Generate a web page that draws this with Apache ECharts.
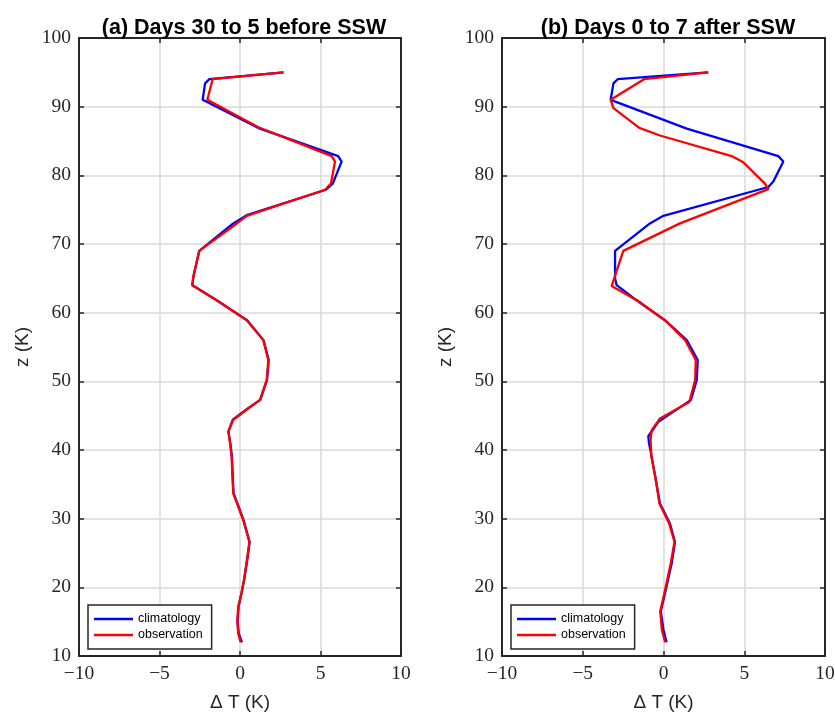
<!DOCTYPE html>
<html><head><meta charset="utf-8">
<script src="https://cdn.jsdelivr.net/npm/echarts@6/dist/echarts.min.js"></script>
<style>html,body{margin:0;padding:0;background:#fff}#c{width:835px;height:715px}</style>
</head><body><div id="c"></div>
<script>
// ---- data ----
const xTicks = [-10, -5, 0, 5, 10];
const yTicks = [10, 20, 30, 40, 50, 60, 70, 80, 90, 100];
const titles = ['(a) Days 30 to 5 before SSW', '(b) Days 0 to 7 after SSW'];
const seriesNames = ['climatology', 'observation'];

// Panel (a)
const aClimZ = [12, 13.3, 15, 17.2, 19.2, 21, 23.8, 26.6, 29.8, 31.7, 33.7, 36.6, 39, 41, 42.7, 44.4, 45.9, 47.3, 50.2, 53.1, 56, 58.9, 61.8, 64, 65.2, 69, 73, 74.2, 77.9, 78.8, 82, 82.8, 86.8, 91, 93.4, 94, 95];
const aClimT = [0.12, -0.08, -0.15, -0.09, 0.1, 0.25, 0.44, 0.6, 0.22, -0.08, -0.4, -0.46, -0.5, -0.6, -0.72, -0.45, 0.4, 1.26, 1.68, 1.78, 1.46, 0.44, -1.45, -2.96, -2.9, -2.53, -0.42, 0.42, 5.34, 5.76, 6.31, 6.1, 1.24, -2.32, -2.17, -1.9, 2.7];
const aObsZ = [12, 13.3, 15, 17.2, 19.2, 21, 23.8, 26.6, 29.8, 31.7, 33.7, 36.6, 39, 41, 42.7, 44.4, 45.9, 47.3, 50.2, 53.1, 56, 58.9, 61.8, 64, 65.2, 69, 72.8, 74.1, 77.9, 78.8, 82, 82.8, 87, 91, 94, 95];
const aObsT = [0.04, -0.11, -0.17, -0.11, 0.1, 0.24, 0.42, 0.58, 0.2, -0.1, -0.42, -0.48, -0.52, -0.62, -0.72, -0.42, 0.42, 1.24, 1.66, 1.76, 1.45, 0.42, -1.45, -2.96, -2.9, -2.53, -0.31, 0.42, 5.28, 5.65, 5.9, 5.7, 1.14, -2.03, -1.7, 2.7];

// Panel (b)
const bClimZ = [12, 13.8, 16.5, 19.1, 23.5, 26.6, 29.3, 32.2, 36, 39, 41, 42, 44.1, 47.3, 50.2, 53.1, 56, 58.9, 61.8, 64, 65, 69, 73, 74.1, 78.3, 79.1, 82, 82.8, 86.8, 91, 93.4, 94, 95];
const bClimT = [0.19, 0.0, -0.17, 0.09, 0.51, 0.71, 0.4, -0.22, -0.5, -0.73, -0.9, -0.94, -0.32, 1.7, 2.06, 2.12, 1.44, 0.09, -1.66, -2.9, -3.0, -3.0, -0.84, -0.01, 6.49, 6.8, 7.42, 7.11, 1.44, -3.27, -3.1, -2.84, 2.77];
const bObsZ = [12, 13.8, 16.5, 19.1, 23.5, 26.6, 29.3, 32.2, 36, 39, 41.5, 42.9, 44.6, 47, 50.2, 53.1, 56, 58.9, 61.8, 63.9, 69, 73, 78, 78.8, 81.9, 82.8, 85.8, 86.9, 89.8, 91, 94, 95];
const bObsT = [0.1, -0.1, -0.2, 0.05, 0.45, 0.68, 0.35, -0.25, -0.5, -0.75, -0.8, -0.73, -0.22, 1.6, 1.96, 2.0, 1.34, 0.09, -1.66, -3.21, -2.49, 1.02, 6.49, 6.28, 4.94, 4.22, -0.22, -1.5, -3.1, -3.27, -1.21, 2.77];

// ---- chart ----
const pairs = (t, z) => t.map((v, i) => [v, z[i]]);
const axisColor = '#262626';
const gridCol = '#dadada';
const grids = [
  {left: 79, right: 434, top: 38, bottom: 59, containLabel: false, outerBoundsMode: 'none'},
  {left: 502, right: 10, top: 38, bottom: 59, containLabel: false, outerBoundsMode: 'none'}
];
const fmtNum = v => String(v).replace('-', '\u2212');
const tickFont = {color: '#262626', fontFamily: 'Liberation Serif', fontSize: 19.5};
const nameFont = {fontFamily: 'Liberation Sans', fontSize: 19, color: '#262626'};
const xAxes = [], yAxes = [];
grids.forEach((g, gi) => {
  xAxes.push({
    type: 'value', gridIndex: gi, min: xTicks[0], max: xTicks[xTicks.length - 1],
    interval: xTicks[1] - xTicks[0], position: 'bottom',
    axisLine: {show: true, onZero: false, lineStyle: {color: axisColor, width: 2}},
    axisTick: {show: true, inside: true, length: 5, lineStyle: {color: axisColor, width: 1.5}},
    axisLabel: Object.assign({show: true, formatter: fmtNum, margin: 8}, tickFont),
    splitLine: {show: true, lineStyle: {color: gridCol, width: 1.5}},
    name: '\u0394 T (K)', nameLocation: 'middle', nameGap: 37, nameMoveOverlap: false,
    nameTextStyle: nameFont
  });
  xAxes.push({
    type: 'value', gridIndex: gi, min: xTicks[0], max: xTicks[xTicks.length - 1],
    interval: xTicks[1] - xTicks[0], position: 'top',
    axisLine: {show: true, onZero: false, lineStyle: {color: axisColor, width: 2}},
    axisTick: {show: true, inside: true, length: 5, lineStyle: {color: axisColor, width: 1.5}},
    axisLabel: {show: false}, splitLine: {show: false}
  });
  yAxes.push({
    type: 'value', gridIndex: gi, min: yTicks[0], max: yTicks[yTicks.length - 1],
    interval: yTicks[1] - yTicks[0], position: 'left',
    axisLine: {show: true, onZero: false, lineStyle: {color: axisColor, width: 2}},
    axisTick: {show: true, inside: true, length: 5, lineStyle: {color: axisColor, width: 1.5}},
    axisLabel: Object.assign({show: true, formatter: fmtNum, margin: 8}, tickFont),
    splitLine: {show: true, lineStyle: {color: gridCol, width: 1.5}},
    name: 'z (K)', nameLocation: 'middle', nameGap: 47, nameRotate: 90, nameMoveOverlap: false,
    nameTextStyle: nameFont
  });
  yAxes.push({
    type: 'value', gridIndex: gi, min: yTicks[0], max: yTicks[yTicks.length - 1],
    interval: yTicks[1] - yTicks[0], position: 'right',
    axisLine: {show: true, onZero: false, lineStyle: {color: axisColor, width: 2}},
    axisTick: {show: true, inside: true, length: 5, lineStyle: {color: axisColor, width: 1.5}},
    axisLabel: {show: false}, splitLine: {show: false}
  });
});

const panelData = [
  [pairs(aClimT, aClimZ), pairs(aObsT, aObsZ)],
  [pairs(bClimT, bClimZ), pairs(bObsT, bObsZ)]
];
const colors = ['#0000ff', '#ff0000'];
const series = [];
panelData.forEach((pd, gi) => {
  pd.forEach((d, si) => {
    series.push({
      type: 'line', name: seriesNames[si], data: d,
      xAxisIndex: gi * 2, yAxisIndex: gi * 2,
      showSymbol: false, symbol: 'none', smooth: false,
      lineStyle: {color: colors[si], width: 2.3}, itemStyle: {color: colors[si]},
      z: 2 + si, animation: false
    });
  });
});

const legendBase = {
  orient: 'vertical', data: seriesNames, icon: 'rect', itemWidth: 39, itemHeight: 2.5,
  itemGap: 0, backgroundColor: '#fff', borderColor: axisColor, borderWidth: 1.5,
  padding: [6, 9, 6, 6], selectedMode: false,
  textStyle: {fontFamily: 'Liberation Sans', fontSize: 12.5, color: '#000', lineHeight: 16, padding: [0, 0, 0, 0]}
};

const option = {
  animation: false,
  backgroundColor: '#fff',
  title: titles.map((t, i) => ({
    text: t, left: i === 0 ? 239 : 663, top: 12, textAlign: 'center',
    textStyle: {fontFamily: 'Liberation Sans', fontWeight: 'bold', fontSize: 21.5, color: '#000'}
  })),
  legend: [
    Object.assign({}, legendBase, {left: 88, top: 605}),
    Object.assign({}, legendBase, {left: 511, top: 605})
  ],
  grid: grids,
  xAxis: xAxes,
  yAxis: yAxes,
  series: series
};
const chart = echarts.init(document.getElementById('c'), null, {renderer: 'canvas'});
chart.setOption(option);
</script></body></html>
